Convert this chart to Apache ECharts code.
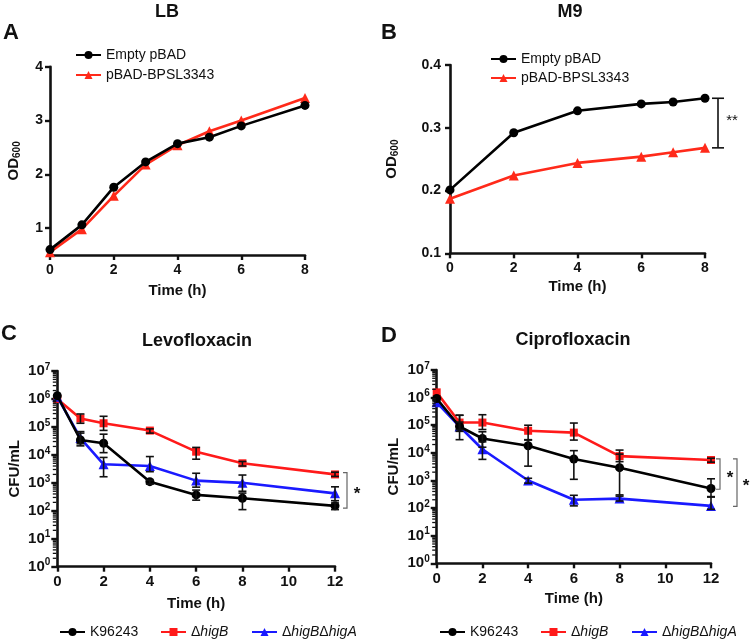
<!DOCTYPE html>
<html><head><meta charset="utf-8">
<script src="https://cdn.jsdelivr.net/npm/echarts@6/dist/echarts.min.js"></script>
<style>html,body{margin:0;padding:0;background:#fff}#c{width:750px;height:640px}</style>
</head><body><div id="c"></div>
<script>
const FONT = '"Liberation Sans", Arial, Helvetica, sans-serif';
const INK = '#111';

// ---- Panel A: LB growth (OD600) ----
const timeA = [0, 1, 2, 3, 4, 5, 6, 8];
const lbEmpty = [0.60, 1.06, 1.76, 2.23, 2.57, 2.69, 2.90, 3.28];
const lbBPSL = [0.55, 0.98, 1.60, 2.18, 2.54, 2.80, 3.00, 3.42];

// ---- Panel B: M9 growth (OD600) ----
const timeB = [0, 2, 4, 6, 7, 8];
const m9Empty = [0.201, 0.292, 0.327, 0.338, 0.341, 0.347];
const m9BPSL = [0.187, 0.224, 0.244, 0.254, 0.261, 0.268];
const sigB = [[8, 0.347, 0.268]];

// ---- Panels C/D: survival (CFU/mL) ----
const timeCD = [0, 1, 2, 4, 6, 8, 12];
const levoK = [1.3e6, 3.4e4, 2.6e4, 1.1e3, 370, 280, 150];
const levoB = [1.0e6, 2.0e5, 1.35e5, 7.4e4, 1.3e4, 5.0e3, 2.0e3];
const levoBA = [1.2e6, 4.0e4, 4.6e3, 4.0e3, 1.2e3, 1.0e3, 420];
const levoKErr = [null, [2.1e4, 6.8e4], [1.2e4, 5.5e4], [9e2, 1.25e3], [2.4e2, 5.5e2], [1.1e2, 4.3e2], [1.1e2, 1.9e2]];
const levoBErr = [null, [1.35e5, 2.9e5], [7.5e4, 2.4e5], [6e4, 8.5e4], [7e3, 1.85e4], [4e3, 5.8e3], [1.7e3, 2.4e3]];
const levoBAErr = [null, [2.5e4, 6e4], [1.65e3, 8.1e3], [2.5e3, 8.7e3], [7e2, 2.2e3], [5e2, 1.9e3], [2.3e2, 7.2e2]];
const sigC = [[12, 2.3e3, 1.25e2]];

const ciproK = [9.3e5, 9.0e4, 3.3e4, 1.8e4, 6.0e3, 2.9e3, 510];
const ciproB = [1.55e6, 1.25e5, 1.25e5, 6.3e4, 5.4e4, 7.6e3, 5.5e3];
const ciproBA = [6.8e5, 9.0e4, 1.35e4, 1.0e3, 2.0e2, 2.2e2, 1.2e2];
const ciproKErr = [null, [3e4, 2.3e5], [1.6e4, 5.8e4], [3.3e3, 2.9e4], [1.1e3, 1.2e4], [3e2, 9e3], [2.5e2, 1.15e3]];
const ciproBErr = [null, [7e4, 2.3e5], [7e4, 2.4e5], [3e4, 1e5], [2.9e4, 1.2e5], [4.8e3, 1.26e4], [4.6e3, 6.4e3]];
const ciproBAErr = [null, [6e4, 1.3e5], [5.8e3, 2.5e4], [8e2, 1.2e3], [1.2e2, 2.9e2], [1.8e2, 2.7e2], [9e1, 2.6e2]];
const sigD1 = [[12, 6.0e3, 4.8e2]];
const sigD2 = [[12, 6.0e3, 1.15e2]];

// ---- tick values ----
const xTicksAB = [0, 2, 4, 6, 8];
const yTicksA = [1, 2, 3, 4];
const yTicksB = [0.1, 0.2, 0.3, 0.4];
const xTicksCD = [0, 2, 4, 6, 8, 10, 12];
const logMajor = [1, 10, 100, 1e3, 1e4, 1e5, 1e6, 1e7];
const logMinor = [];
for (let e = 0; e < 7; e++) for (let m = 2; m <= 9; m++) logMinor.push(m * Math.pow(10, e));

const names = { empty: 'Empty pBAD', bpsl: 'pBAD-BPSL3343', k: 'K96243', b: 'ΔhigB', ba: 'ΔhigBΔhigA' };

function pairs(xs, ys) { return xs.map((x, i) => [x, ys[i]]); }
function errPts(xs, errs) { const o = []; errs.forEach((e, i) => { if (e) o.push([xs[i], e[0], e[1]]); }); return o; }

function errRender(params, api) {
  const x = api.value(0), lo = api.value(1), hi = api.value(2);
  const a = api.coord([x, hi]), b = api.coord([x, lo]);
  const w = 4, st = { stroke: INK, lineWidth: 1.6 };
  return { type: 'group', children: [
    { type: 'line', shape: { x1: a[0], y1: a[1], x2: b[0], y2: b[1] }, style: st },
    { type: 'line', shape: { x1: a[0] - w, y1: a[1], x2: a[0] + w, y2: a[1] }, style: st },
    { type: 'line', shape: { x1: b[0] - w, y1: b[1], x2: b[0] + w, y2: b[1] }, style: st }
  ]};
}
function minorRender(params, api) {
  const p = api.coord([0, api.value(1)]);
  return { type: 'line', shape: { x1: p[0] - 1, y1: p[1], x2: p[0] - 4.5, y2: p[1] }, style: { stroke: INK, lineWidth: 1.3 } };
}
function bracketLeft(off, label, labOff) {
  return function (params, api) {
    const x = api.value(0), y1 = api.value(1), y2 = api.value(2);
    const a = api.coord([x, y1]), b = api.coord([x, y2]); const X = a[0] + off;
    return { type: 'group', children: [
      { type: 'polyline', shape: { points: [[X - 4, a[1]], [X, a[1]], [X, b[1]], [X - 4, b[1]]] }, style: { stroke: '#666', lineWidth: 1.2, fill: null } },
      { type: 'text', x: X + labOff, y: (a[1] + b[1]) / 2 + 4, style: { text: label, fontSize: 17, fontWeight: 'bold', fontFamily: FONT, fill: INK, align: 'center', verticalAlign: 'middle', textAlign: 'center', textVerticalAlign: 'middle' } }
    ]};
  };
}
function bracketCaps(off, label, labOff) {
  return function (params, api) {
    const x = api.value(0), y1 = api.value(1), y2 = api.value(2);
    const a = api.coord([x, y1]), b = api.coord([x, y2]); const X = a[0] + off; const w = 6;
    const st = { stroke: INK, lineWidth: 1.6 };
    return { type: 'group', children: [
      { type: 'line', shape: { x1: X, y1: a[1], x2: X, y2: b[1] }, style: st },
      { type: 'line', shape: { x1: X - w, y1: a[1], x2: X + w, y2: a[1] }, style: st },
      { type: 'line', shape: { x1: X - w, y1: b[1], x2: X + w, y2: b[1] }, style: st },
      { type: 'text', x: X + labOff, y: (a[1] + b[1]) / 2 - 2, style: { text: label, fontSize: 15, fontFamily: FONT, fill: INK, align: 'center', verticalAlign: 'middle', textAlign: 'center', textVerticalAlign: 'middle' } }
    ]};
  };
}

const axisLine = { lineStyle: { color: INK, width: 2.6 } };
const axisTick = { inside: false, length: 5, lineStyle: { color: INK, width: 2.4 } };
function lbl(size, margin) { return { color: INK, fontSize: size, fontWeight: 'bold', fontFamily: FONT, margin: margin }; }
const nameStyle = { color: INK, fontSize: 15, fontWeight: 'bold', fontFamily: FONT };
const odName = { color: INK, fontFamily: FONT, rich: { a: { fontSize: 15, fontWeight: 'bold', fontFamily: FONT, color: INK }, s: { fontSize: 10, fontWeight: 'bold', fontFamily: FONT, color: INK, verticalAlign: 'bottom', padding: [6, 0, 0, 0] } } };

function xAx(grid, max, ticks, size, gap) {
  return { gridIndex: grid, type: 'value', min: 0, max: max, interval: 2, name: 'Time (h)', nameLocation: 'middle', nameGap: gap, nameTextStyle: nameStyle,
    axisLine: axisLine, axisTick: Object.assign({ customValues: ticks }, axisTick), axisLabel: Object.assign({ customValues: ticks }, lbl(size, 8)), splitLine: { show: false } };
}
const logFmt = v => '{b|10}{s|' + Math.round(Math.log10(v)) + '}';
const logRich = { b: { fontSize: 15, fontWeight: 'bold', fontFamily: FONT, color: INK, lineHeight: 18 }, s: { fontSize: 10, fontWeight: 'bold', fontFamily: FONT, color: INK, verticalAlign: 'top', lineHeight: 10 } };
function logAx(grid, gap) {
  return { gridIndex: grid, type: 'log', logBase: 10, min: 1, max: 1e7, name: 'CFU/mL', nameLocation: 'middle', nameGap: gap, nameTextStyle: nameStyle,
    axisLine: axisLine, axisTick: Object.assign({ customValues: logMajor }, axisTick, { length: 6 }), splitLine: { show: false },
    axisLabel: { customValues: logMajor, formatter: logFmt, rich: logRich, margin: 7 } };
}

function line(name, xi, yi, data, color, symbol, z) {
  return { type: 'line', name: name, xAxisIndex: xi, yAxisIndex: yi, data: data, symbol: symbol, symbolSize: symbol === 'circle' ? 9 : (symbol === 'rect' ? 8 : 10),
    lineStyle: { color: color, width: 2.6 }, itemStyle: { color: color }, z: z, animation: false };
}
function errSeries(xi, yi, data) {
  return { type: 'custom', xAxisIndex: xi, yAxisIndex: yi, renderItem: errRender, data: data, encode: { x: 0, y: [1, 2] }, z: 5, silent: true, animation: false };
}
function sigSeries(xi, yi, data, render) {
  return { type: 'custom', xAxisIndex: xi, yAxisIndex: yi, renderItem: render, data: data, encode: { x: 0, y: [1, 2] }, z: 5, silent: true, animation: false, clip: false };
}
function minorSeries(xi, yi) {
  return { type: 'custom', xAxisIndex: xi, yAxisIndex: yi, renderItem: minorRender, data: logMinor.map(v => [0, v]), encode: { x: 0, y: 1 }, z: 6, silent: true, animation: false, clip: false };
}

function legendItem(left, top, name, orient, gap) {
  return { left: left, top: top, orient: orient || 'horizontal', itemGap: gap || 8, itemWidth: 25, itemHeight: 10, data: Array.isArray(name) ? name : [name],
    textStyle: { color: INK, fontSize: 14, fontFamily: FONT,
      rich: { d: { fontSize: 14, fontFamily: FONT, color: INK }, i: { fontSize: 14, fontFamily: FONT, color: INK, fontStyle: 'italic' } } },
    formatter: n => n === names.b ? '{d|Δ}{i|higB}' : (n === names.ba ? '{d|Δ}{i|higB}{d|Δ}{i|higA}' : n),
    selectedMode: false };
}

function gtext(x, y, text, size) {
  return { type: 'text', x: x, y: y, style: { text: text, fontSize: size, fontWeight: 'bold', fontFamily: FONT, fill: INK, align: 'center', verticalAlign: 'middle', textAlign: 'center', textVerticalAlign: 'middle' } };
}

const option = {
  backgroundColor: '#fff',
  animation: false,
  graphic: [
    gtext(167, 12, 'LB', 18), gtext(570, 12, 'M9', 18),
    gtext(197, 341, 'Levofloxacin', 18), gtext(573, 340, 'Ciprofloxacin', 18),
    gtext(11, 33, 'A', 22), gtext(389, 33, 'B', 22), gtext(9, 334, 'C', 22), gtext(389, 336, 'D', 22)
  ],
  grid: [
    { left: 50, top: 66.7, width: 255, height: 188.3 },
    { left: 450, top: 65, width: 255, height: 188.3 },
    { left: 57.3, top: 371, width: 277.7, height: 195.7 },
    { left: 436.7, top: 370, width: 274.3, height: 193.3 }
  ],
  legend: [
    legendItem(70, 43, [names.empty, names.bpsl], 'vertical', 6),
    legendItem(485, 47, [names.empty, names.bpsl], 'vertical', 5),
    legendItem(54, 620, names.k), legendItem(155, 620, names.b), legendItem(246, 620, names.ba),
    legendItem(434, 620, names.k), legendItem(535, 620, names.b), legendItem(626, 620, names.ba)
  ],
  xAxis: [ xAx(0, 8, xTicksAB, 14, 28), xAx(1, 8, xTicksAB, 14, 26), xAx(2, 12, xTicksCD, 15, 30), xAx(3, 12, xTicksCD, 15, 28) ],
  yAxis: [
    { gridIndex: 0, type: 'value', min: 0.5, max: 4, interval: 0.5, name: '{a|OD}{s|600}', nameLocation: 'middle', nameGap: 28, nameTextStyle: odName,
      axisLine: axisLine, axisTick: Object.assign({ customValues: yTicksA }, axisTick), axisLabel: Object.assign({ customValues: yTicksA }, lbl(14, 7)), splitLine: { show: false } },
    { gridIndex: 1, type: 'value', min: 0.1, max: 0.4, interval: 0.1, name: '{a|OD}{s|600}', nameLocation: 'middle', nameGap: 50, nameTextStyle: odName,
      axisLine: axisLine, axisTick: Object.assign({ customValues: yTicksB }, axisTick), axisLabel: Object.assign({ customValues: yTicksB, formatter: v => v.toFixed(1) }, lbl(14, 9)), splitLine: { show: false } },
    logAx(2, 35), logAx(3, 35)
  ],
  series: [
    line(names.bpsl, 0, 0, pairs(timeA, lbBPSL), '#ff2a1a', 'triangle', 2),
    line(names.empty, 0, 0, pairs(timeA, lbEmpty), '#000', 'circle', 3),
    line(names.empty, 1, 1, pairs(timeB, m9Empty), '#000', 'circle', 3),
    line(names.bpsl, 1, 1, pairs(timeB, m9BPSL), '#ff2a1a', 'triangle', 2),
    sigSeries(1, 1, sigB, bracketCaps(13, '**', 14)),

    line(names.b, 2, 2, pairs(timeCD, levoB), '#ff1a1a', 'rect', 2),
    line(names.ba, 2, 2, pairs(timeCD, levoBA), '#1a1aff', 'triangle', 3),
    line(names.k, 2, 2, pairs(timeCD, levoK), '#000', 'circle', 4),
    errSeries(2, 2, errPts(timeCD, levoBErr)), errSeries(2, 2, errPts(timeCD, levoBAErr)), errSeries(2, 2, errPts(timeCD, levoKErr)),
    sigSeries(2, 2, sigC, bracketLeft(12, '*', 10)),
    minorSeries(2, 2),

    line(names.b, 3, 3, pairs(timeCD, ciproB), '#ff1a1a', 'rect', 2),
    line(names.ba, 3, 3, pairs(timeCD, ciproBA), '#1a1aff', 'triangle', 3),
    line(names.k, 3, 3, pairs(timeCD, ciproK), '#000', 'circle', 4),
    errSeries(3, 3, errPts(timeCD, ciproBErr)), errSeries(3, 3, errPts(timeCD, ciproBAErr)), errSeries(3, 3, errPts(timeCD, ciproKErr)),
    sigSeries(3, 3, sigD1, bracketLeft(9, '*', 10)),
    sigSeries(3, 3, sigD2, bracketLeft(26, '*', 9)),
    minorSeries(3, 3)
  ]
};
const chart = echarts.init(document.getElementById('c'), null, { renderer: 'canvas' });
chart.setOption(option);
</script></body></html>
